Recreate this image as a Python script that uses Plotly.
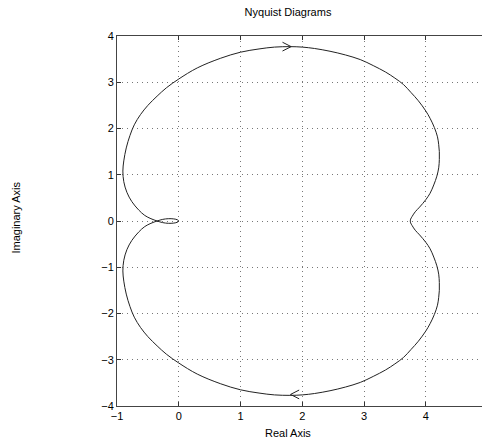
import plotly.graph_objects as go

# Upper half (negative-frequency branch)
re_upper = [3.75, 3.755, 3.78, 3.83, 3.90, 4.00, 4.07, 4.13, 4.18, 4.21, 4.22, 4.22, 4.21,
            4.19, 4.14, 4.07, 4.00, 3.88, 3.76, 3.64, 3.50, 3.35, 3.15, 2.94, 2.70, 2.45,
            2.20, 2.00, 1.80, 1.55, 1.30, 1.00, 0.68, 0.30, 0.00, -0.20, -0.35, -0.50,
            -0.62, -0.72, -0.79, -0.85, -0.89, -0.905, -0.89, -0.84, -0.76, -0.65, -0.55,
            -0.45, -0.35, -0.26, -0.17, -0.08, -0.02, 0.0]
im_upper = [0.0, 0.04, 0.10, 0.20, 0.30, 0.46, 0.60, 0.78, 0.97, 1.15, 1.33, 1.50, 1.65,
            1.82, 2.02, 2.22, 2.38, 2.60, 2.78, 2.95, 3.09, 3.22, 3.36, 3.49, 3.59, 3.67,
            3.73, 3.76, 3.77, 3.76, 3.72, 3.65, 3.52, 3.31, 3.07, 2.88, 2.70, 2.50,
            2.30, 2.08, 1.85, 1.58, 1.30, 1.08, 0.85, 0.62, 0.42, 0.24, 0.12,
            0.05, 0.0, -0.035, -0.05, -0.045, -0.025, 0.0]

# Lower half (positive-frequency branch)
re_lower = [3.75, 3.755, 3.78, 3.83, 3.90, 4.00, 4.07, 4.13, 4.18, 4.21, 4.22, 4.22, 4.21,
            4.19, 4.14, 4.07, 4.00, 3.88, 3.76, 3.64, 3.50, 3.35, 3.15, 2.94, 2.70, 2.45,
            2.20, 2.00, 1.80, 1.55, 1.30, 1.00, 0.68, 0.30, 0.00, -0.20, -0.35, -0.50,
            -0.62, -0.72, -0.79, -0.85, -0.89, -0.905, -0.89, -0.84, -0.76, -0.65, -0.55,
            -0.45, -0.35, -0.26, -0.17, -0.08, -0.02, 0.0]
im_lower = [0.0, -0.04, -0.10, -0.20, -0.30, -0.46, -0.60, -0.78, -0.97, -1.15, -1.33, -1.50, -1.65,
            -1.82, -2.02, -2.22, -2.38, -2.60, -2.78, -2.95, -3.09, -3.22, -3.36, -3.49, -3.59, -3.67,
            -3.73, -3.76, -3.77, -3.76, -3.72, -3.65, -3.52, -3.31, -3.07, -2.88, -2.70, -2.50,
            -2.30, -2.08, -1.85, -1.58, -1.30, -1.08, -0.85, -0.62, -0.42, -0.24, -0.12,
            -0.05, 0.0, 0.035, 0.05, 0.045, 0.025, 0.0]

# Direction arrows (tip position and pointing direction: +1 right, -1 left)
arrow_x = [1.82, 1.81]
arrow_y = [3.77, -3.75]
arrow_dir = [1, -1]

x_ticks = [-1, 0, 1, 2, 3, 4]
y_ticks = [-4, -3, -2, -1, 0, 1, 2, 3, 4]

line_style = dict(color="#222222", width=1)

# one closed path: lower branch run backwards (origin -> DC point), then upper branch
path_x = re_lower[::-1] + re_upper[1:]
path_y = im_lower[::-1] + im_upper[1:]

fig = go.Figure()
fig.add_trace(go.Scatter(x=path_x, y=path_y, mode="lines", line=line_style,
                         line_shape="spline", hoverinfo="skip", showlegend=False))

# chevron arrowheads
chev_dx, chev_dy = 0.14, 0.095
for ax_, ay_, d in zip(arrow_x, arrow_y, arrow_dir):
    fig.add_trace(go.Scatter(
        x=[ax_ - d * chev_dx, ax_, ax_ - d * chev_dx],
        y=[ay_ + chev_dy, ay_, ay_ - chev_dy],
        mode="lines", line=line_style, hoverinfo="skip", showlegend=False))

font = dict(family="Liberation Sans, Arial, sans-serif", size=11, color="#000000")

left_px = 116.7
plot_w = 482 - left_px
grid_dash = "1px,4px"

fig.update_layout(
    width=482, height=439,
    margin=dict(l=left_px, r=0, t=36, b=439 - 405.7),
    paper_bgcolor="white", plot_bgcolor="white",
    font=font,
    title=dict(text="Nyquist Diagrams", x=288 / 482, xref="container", xanchor="center",
               y=1 - 12.5 / 439, yref="container", yanchor="middle",
               font=dict(family="Liberation Sans, Arial, sans-serif", size=11, color="#000")),
    xaxis=dict(range=[-1, -1 + plot_w / 61.8], tickvals=x_ticks, ticks="inside",
               ticklen=4, tickcolor="#333", showline=True, linecolor="#444", linewidth=1,
               mirror="allticks", showgrid=True, gridcolor="#777", griddash=grid_dash,
               gridwidth=1, zeroline=False, tickfont=font),
    yaxis=dict(range=[-4, 4], tickvals=y_ticks, ticks="inside", ticklen=4, tickcolor="#333",
               showline=True, linecolor="#444", linewidth=1, mirror=False,
               showgrid=True, gridcolor="#777", griddash=grid_dash, gridwidth=1,
               zeroline=False, tickfont=font),
    annotations=[
        dict(text="Real Axis", xref="paper", yref="paper",
             x=(288 - left_px) / plot_w, y=(405.7 - 433) / 369.7,
             xanchor="center", yanchor="middle", showarrow=False, font=font),
        dict(text="Imaginary Axis", xref="paper", yref="paper", textangle=-90,
             x=(16 - left_px) / plot_w, y=(405.7 - 217) / 369.7,
             xanchor="center", yanchor="middle", showarrow=False, font=font),
    ],
)

fig.write_html(
    "out.html",
    config={"displayModeBar": False},
    post_script="document.body.style.margin='0';document.body.style.overflow='hidden';",
)
